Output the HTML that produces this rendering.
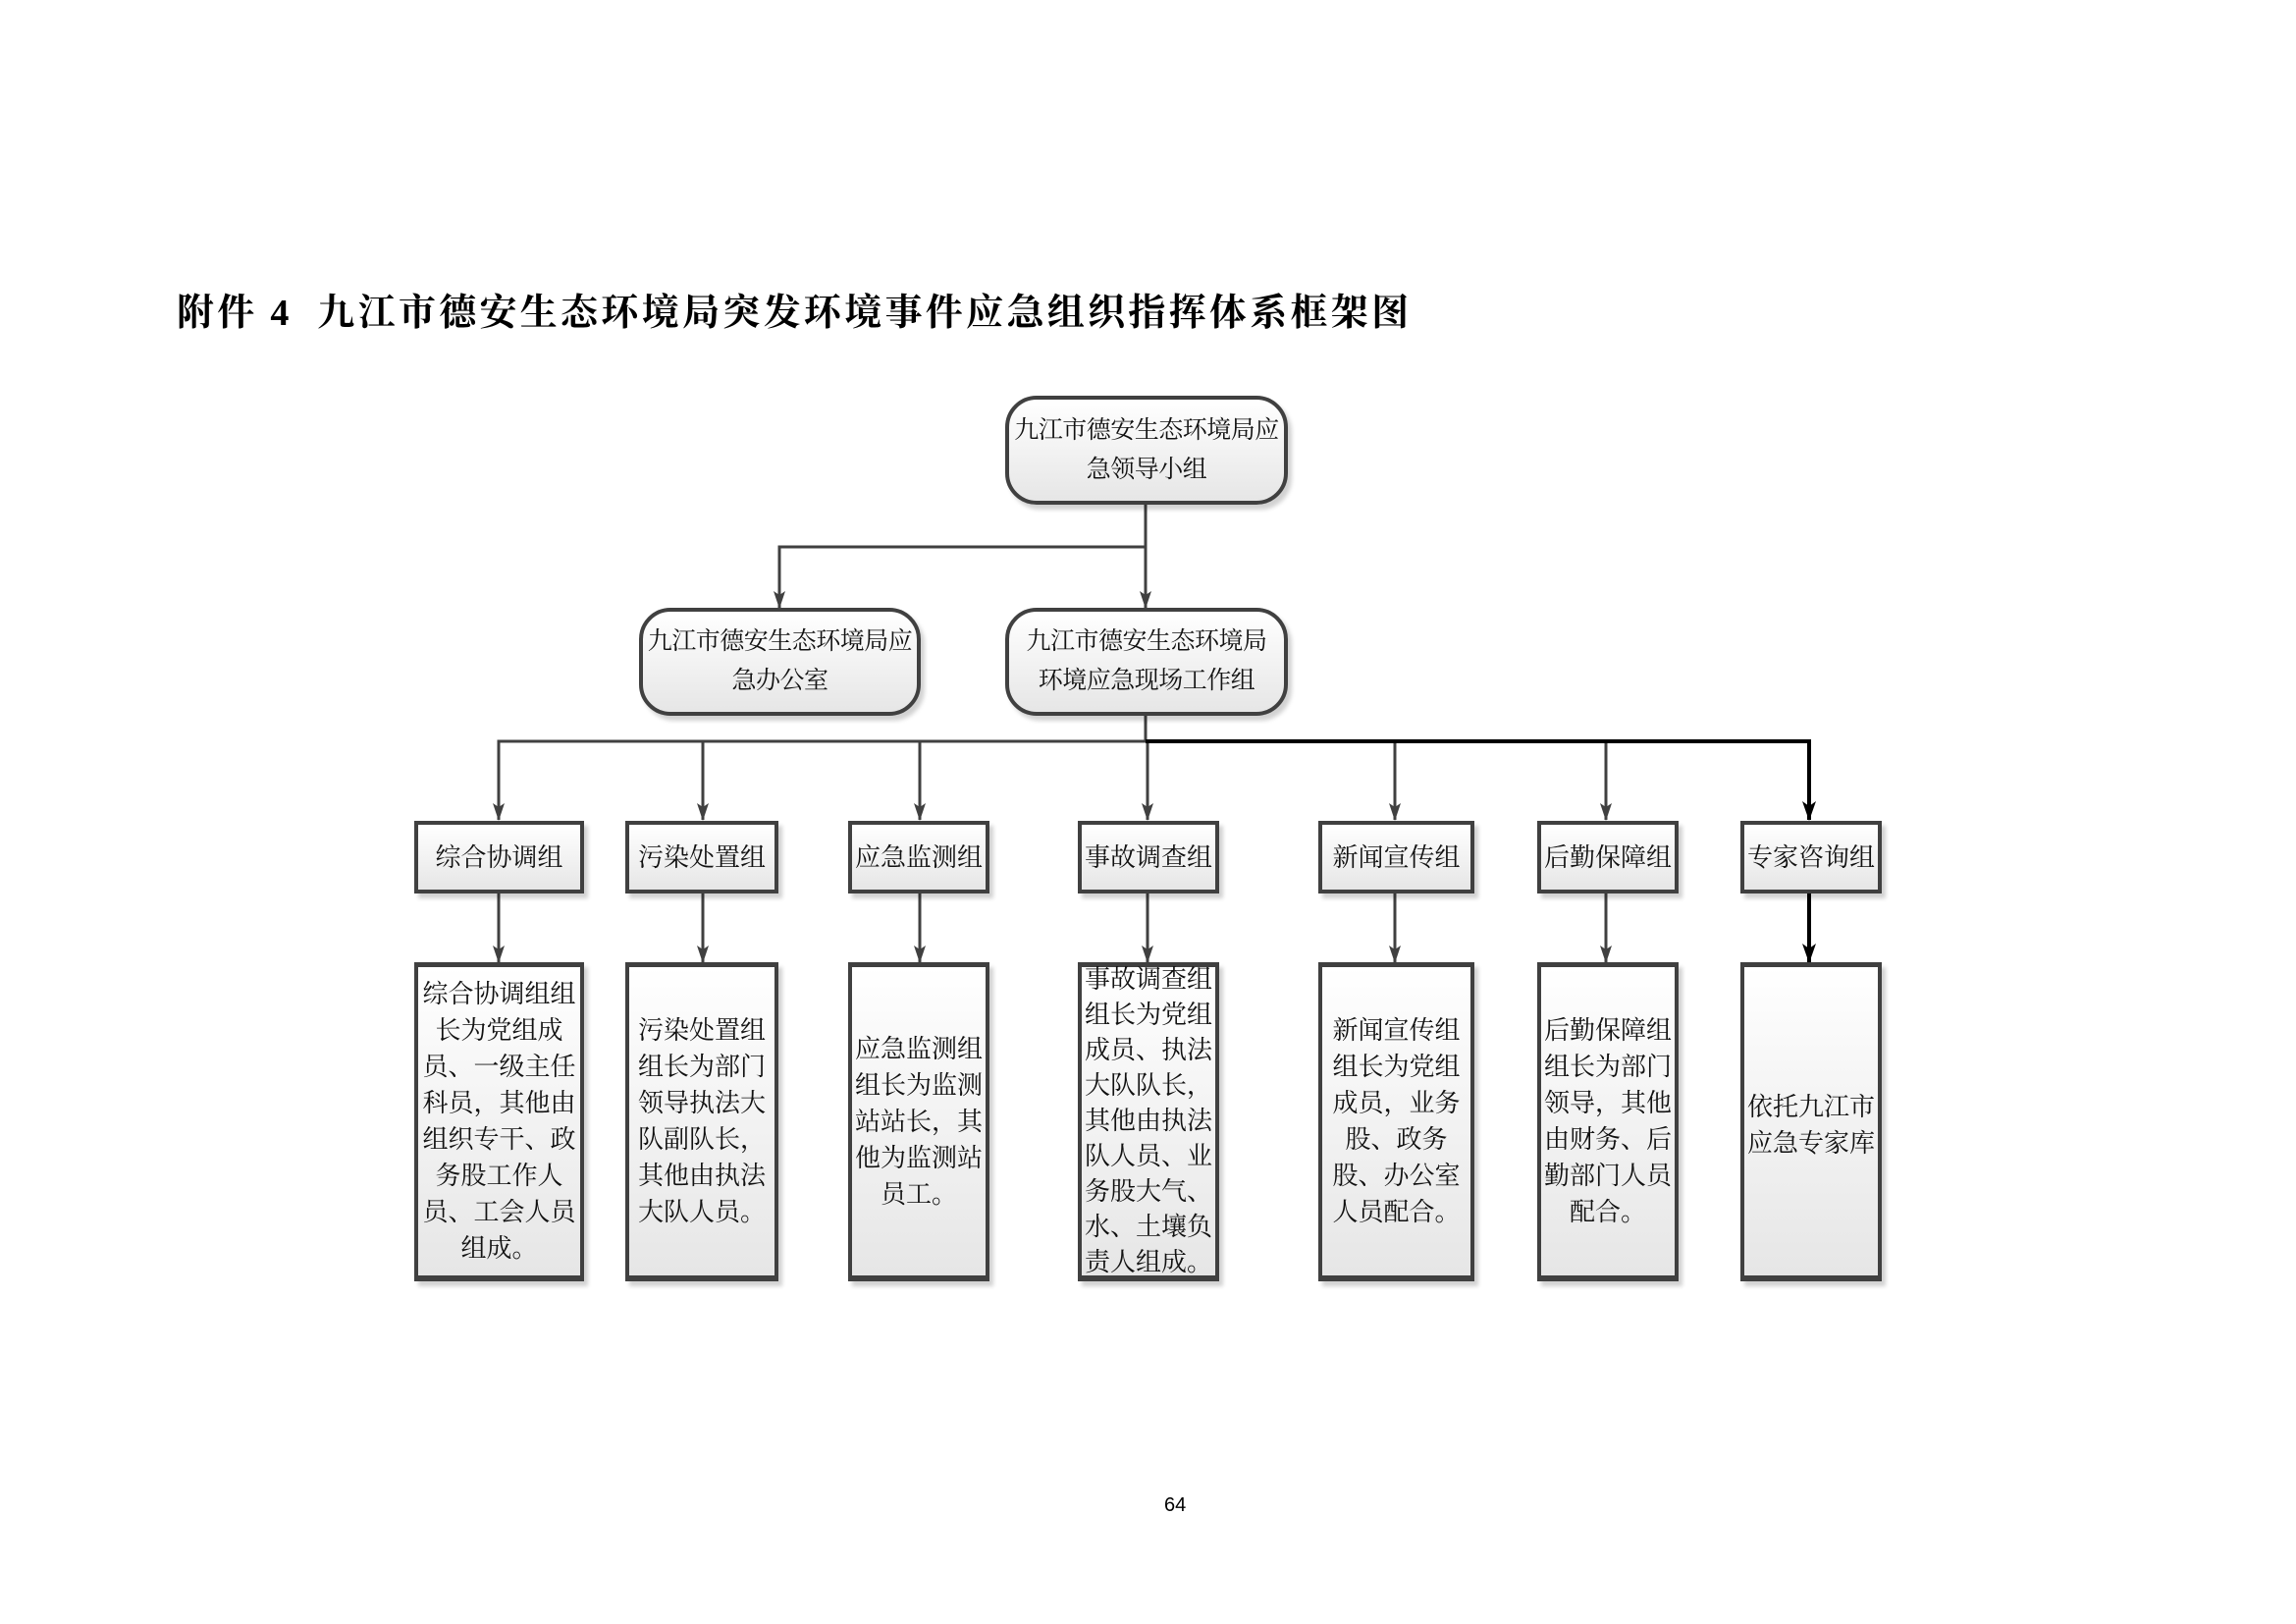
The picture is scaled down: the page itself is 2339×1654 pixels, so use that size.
<!DOCTYPE html>
<html><head><meta charset="utf-8"><style>
body{margin:0;background:#fff;}
#p{position:relative;width:2339px;height:1654px;overflow:hidden;background:#fff;}
.t{position:absolute;left:180px;top:287px;font:bold 38px "Liberation Serif","Noto Serif CJK SC",serif;letter-spacing:3.3px;color:#000;white-space:nowrap;}
.b{position:absolute;box-sizing:border-box;border:4px solid #404040;background:linear-gradient(#ffffff,#e6e6e6);box-shadow:4px 5px 4px rgba(0,0,0,0.18);display:flex;align-items:center;justify-content:center;text-align:center;font:26px/37px "Liberation Serif","Noto Serif CJK SC",serif;color:#111;}
.r{border-radius:32px;line-height:40px;white-space:nowrap;font-size:25px;letter-spacing:-0.5px;}
.s{border-top-width:5px;border-bottom-width:6px;}
.pg{position:absolute;left:1186px;top:1522px;font:20px "Liberation Sans",sans-serif;}
</style></head><body><div id="p">
<div class="t">附件 4&nbsp; 九江市德安生态环境局突发环境事件应急组织指挥体系框架图</div>
<svg style="position:absolute;left:0;top:0" width="2339" height="1654">
<defs>
<marker id="a" markerWidth="12" markerHeight="18" refX="6" refY="17" orient="0" markerUnits="userSpaceOnUse"><path d="M0,0 L6,4 L12,0 L6,18 Z" fill="#404040"/></marker>
<marker id="k" markerWidth="14" markerHeight="20" refX="7" refY="19" orient="0" markerUnits="userSpaceOnUse"><path d="M0,0 L7,5 L14,0 L7,20 Z" fill="#000"/></marker>
</defs>
<g stroke="#404040" stroke-width="3" fill="none">
<line x1="1167" y1="514" x2="1167" y2="619" marker-end="url(#a)"/>
<polyline points="1167,557 794,557 794,619" marker-end="url(#a)"/>
<line x1="1167" y1="727" x2="1167" y2="755"/>
<polyline points="1167,755 508,755 508,835" marker-end="url(#a)"/>
<line x1="716" y1="755" x2="716" y2="835" marker-end="url(#a)"/>
<line x1="937" y1="755" x2="937" y2="835" marker-end="url(#a)"/>
<line x1="1169" y1="755" x2="1169" y2="835" marker-end="url(#a)"/>
<line x1="1421" y1="755" x2="1421" y2="835" marker-end="url(#a)"/>
<line x1="1636" y1="755" x2="1636" y2="835" marker-end="url(#a)"/>
<line x1="508" y1="909" x2="508" y2="980" marker-end="url(#a)"/>
<line x1="716" y1="909" x2="716" y2="980" marker-end="url(#a)"/>
<line x1="937" y1="909" x2="937" y2="980" marker-end="url(#a)"/>
<line x1="1169" y1="909" x2="1169" y2="980" marker-end="url(#a)"/>
<line x1="1421" y1="909" x2="1421" y2="980" marker-end="url(#a)"/>
<line x1="1636" y1="909" x2="1636" y2="980" marker-end="url(#a)"/>
</g>
<g stroke="#000" stroke-width="4" fill="none">
<polyline points="1167,755 1843,755 1843,835" marker-end="url(#k)"/>
<line x1="1843" y1="909" x2="1843" y2="980" marker-end="url(#k)"/>
</g>
</svg>
<div class="b r" style="left:1024px;top:403px;width:288px;height:111px">九江市德安生态环境局应<br>急领导小组</div>
<div class="b r" style="left:651px;top:619px;width:287px;height:110px">九江市德安生态环境局应<br>急办公室</div>
<div class="b r" style="left:1024px;top:619px;width:288px;height:110px">九江市德安生态环境局<br>环境应急现场工作组</div>

<div class="b" style="left:422px;top:836px;width:173px;height:74px">综合协调组</div>
<div class="b" style="left:637px;top:836px;width:156px;height:74px">污染处置组</div>
<div class="b" style="left:864px;top:836px;width:144px;height:74px">应急监测组</div>
<div class="b" style="left:1098px;top:836px;width:144px;height:74px">事故调查组</div>
<div class="b" style="left:1343px;top:836px;width:159px;height:74px">新闻宣传组</div>
<div class="b" style="left:1566px;top:836px;width:144px;height:74px">后勤保障组</div>
<div class="b" style="left:1773px;top:836px;width:144px;height:74px">专家咨询组</div>

<div class="b s" style="left:422px;top:980px;width:173px;height:325px">综合协调组组<br>长为党组成<br>员、一级主任<br>科员，其他由<br>组织专干、政<br>务股工作人<br>员、工会人员<br>组成。</div>
<div class="b s" style="left:637px;top:980px;width:156px;height:325px">污染处置组<br>组长为部门<br>领导执法大<br>队副队长，<br>其他由执法<br>大队人员。</div>
<div class="b s" style="left:864px;top:980px;width:144px;height:325px">应急监测组<br>组长为监测<br>站站长，其<br>他为监测站<br>员工。</div>
<div class="b s" style="left:1098px;top:980px;width:144px;height:325px;line-height:36px">事故调查组<br>组长为党组<br>成员、执法<br>大队队长，<br>其他由执法<br>队人员、业<br>务股大气、<br>水、土壤负<br>责人组成。</div>
<div class="b s" style="left:1343px;top:980px;width:159px;height:325px">新闻宣传组<br>组长为党组<br>成员，业务<br>股、政务<br>股、办公室<br>人员配合。</div>
<div class="b s" style="left:1566px;top:980px;width:144px;height:325px">后勤保障组<br>组长为部门<br>领导，其他<br>由财务、后<br>勤部门人员<br>配合。</div>
<div class="b s" style="left:1773px;top:980px;width:144px;height:325px;align-items:flex-start;padding-top:124px">依托九江市<br>应急专家库</div>
<div class="pg">64</div>
</div></body></html>
